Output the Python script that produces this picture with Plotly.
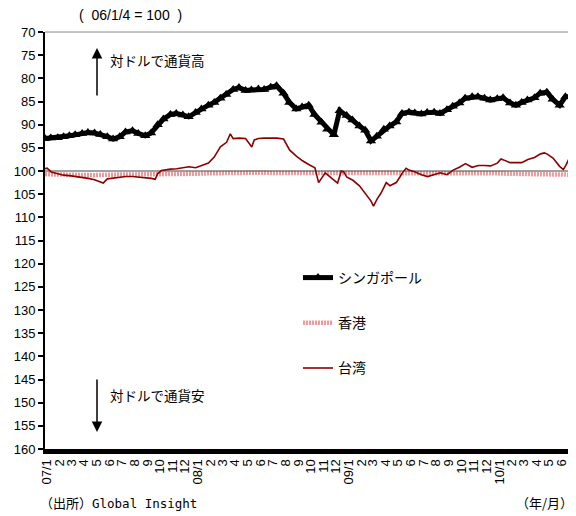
import pandas as pd
import plotly.graph_objects as go

# ---------------- data ----------------
BASE = 100

sg_dates = list(pd.date_range("2007-01-01", "2010-06-30", freq="SMS").strftime("%Y-%m-%d")) + ["2010-06-30"]
sg_values = [93.0, 92.9, 92.8, 92.6, 92.4, 92.2, 91.9, 91.7, 91.8, 92.1, 92.6, 93.1,
             92.6, 91.6, 91.3, 91.9, 92.4, 91.8, 90.0, 88.8, 87.8, 87.6, 87.9, 88.3,
             87.4, 86.6, 85.8, 85.2, 84.3, 83.5, 82.4, 82.0, 82.6, 82.5, 82.3, 82.4,
             81.9, 81.6, 83.2, 85.2, 86.6, 86.2, 85.8, 87.8, 89.5, 91.0, 92.2, 87.0,
             88.0, 89.0, 90.3, 91.2, 93.5, 92.5, 91.0, 90.3, 89.4, 87.6, 87.3, 87.5,
             87.7, 87.4, 87.3, 87.6, 86.8, 86.0, 85.3, 84.3, 84.0, 84.0, 84.3, 84.7,
             84.4, 84.2, 85.3, 85.8, 85.2, 84.7, 84.2, 83.2, 83.0, 84.5, 85.8, 84.0,
             84.0]

hk_dates = list(pd.date_range("2007-01-01", "2010-06-01", freq="MS").strftime("%Y-%m-%d")) + ["2010-06-30"]
hk_values = [100.7, 100.8, 100.8, 100.8, 100.9, 100.8, 100.8, 100.7, 100.7, 100.6, 100.6, 100.6,
             100.6, 100.5, 100.4, 100.4, 100.4, 100.4, 100.4, 100.4, 100.5, 100.4, 100.3, 100.4,
             100.5, 100.5, 100.5, 100.5, 100.5, 100.4, 100.4, 100.4, 100.5, 100.5, 100.4, 100.5,
             100.5, 100.6, 100.6, 100.6, 100.7, 100.8, 100.8]

tw_dates = ["2007-01-01", "2007-01-06", "2007-01-16", "2007-02-01", "2007-02-15", "2007-03-01",
            "2007-03-16", "2007-04-01", "2007-04-16", "2007-05-01", "2007-05-16", "2007-05-22",
            "2007-06-01", "2007-06-16", "2007-07-01", "2007-07-16", "2007-08-01", "2007-08-16",
            "2007-09-01", "2007-09-16", "2007-09-25", "2007-10-01", "2007-10-10", "2007-10-16",
            "2007-11-01", "2007-11-16", "2007-12-01", "2007-12-16", "2008-01-01", "2008-01-16",
            "2008-02-01", "2008-02-15", "2008-03-01", "2008-03-16", "2008-03-25", "2008-04-01",
            "2008-04-16", "2008-05-01", "2008-05-16", "2008-05-22", "2008-06-01", "2008-06-16",
            "2008-07-01", "2008-07-16", "2008-08-01", "2008-08-16", "2008-09-01", "2008-09-16",
            "2008-10-01", "2008-10-16", "2008-10-25", "2008-11-01", "2008-11-10", "2008-11-18",
            "2008-12-01", "2008-12-10", "2008-12-19", "2008-12-25", "2009-01-01", "2009-01-16",
            "2009-02-01", "2009-02-15", "2009-03-01", "2009-03-07", "2009-03-16", "2009-03-25",
            "2009-04-01", "2009-04-07", "2009-04-16", "2009-05-01", "2009-05-10", "2009-05-16",
            "2009-05-25", "2009-06-01", "2009-06-16", "2009-07-01", "2009-07-16", "2009-08-01",
            "2009-08-16", "2009-09-01", "2009-09-16", "2009-10-01", "2009-10-16", "2009-11-01",
            "2009-11-16", "2009-12-01", "2009-12-16", "2010-01-01", "2010-01-10", "2010-01-16",
            "2010-02-01", "2010-02-15", "2010-03-01", "2010-03-16", "2010-04-01", "2010-04-16",
            "2010-04-25", "2010-05-01", "2010-05-16", "2010-06-01", "2010-06-10", "2010-06-16",
            "2010-06-22", "2010-06-30"]
tw_values = [99.5, 99.4, 100.2, 100.6, 100.9, 101.0,
             101.2, 101.3, 101.6, 101.9, 102.3, 102.6,
             101.7, 101.5, 101.3, 101.2, 101.2, 101.3,
             101.4, 101.6, 101.8, 100.6, 99.9, 99.8,
             99.6, 99.5, 99.3, 99.1, 99.3, 98.8,
             98.3, 97.0, 94.8, 93.8, 92.0, 93.0,
             92.9, 93.0, 94.8, 93.3, 93.0, 92.9,
             92.9, 92.9, 93.1, 95.5, 96.8, 97.8,
             98.6, 99.3, 102.5, 101.5, 100.4, 101.0,
             102.0, 102.6, 100.0, 100.2, 101.3, 102.0,
             103.2, 104.8, 106.5, 107.6, 106.0, 104.8,
             103.5, 102.5, 103.2, 102.5, 101.3, 100.4,
             99.4, 99.8, 100.2, 100.8, 101.2, 100.8,
             100.4, 100.8, 99.8, 99.2, 98.4, 99.2,
             98.8, 98.8, 98.9, 98.3, 97.4, 97.6,
             98.2, 98.2, 98.2, 97.5, 97.1, 96.3,
             96.1, 96.3, 97.2, 99.0, 99.7, 98.8,
             97.7, 98.3]

tick_dates = list(pd.date_range("2007-01-01", periods=42, freq="MS").strftime("%Y-%m-06"))
tick_text = ["07/1"] + [str(m) for m in range(2, 13)] + \
            ["08/1"] + [str(m) for m in range(2, 13)] + \
            ["09/1"] + [str(m) for m in range(2, 13)] + \
            ["10/1"] + [str(m) for m in range(2, 7)]

X_RANGE = ["2007-01-01", "2010-07-01"]
Y_RANGE = [160, 70]

# ---------------- figure ----------------
FONT = "Liberation Sans, Arial, Noto Sans CJK JP, sans-serif"
JFONT = "Noto Sans CJK JP, sans-serif"
MONO = "DejaVu Sans Mono, Liberation Mono, monospace"

fig = go.Figure()

fig.add_trace(go.Scatter(
    x=hk_dates, y=hk_values, mode="lines", name="香港",
    line=dict(color="#f29a9a", width=4.5, dash="2px,1px"),
    legendgroup="hk", legendrank=2))

fig.add_trace(go.Scatter(
    x=X_RANGE, y=[BASE, BASE], mode="lines", showlegend=False,
    line=dict(color="#444444", width=1), hoverinfo="skip"))

fig.add_trace(go.Scatter(
    x=tw_dates, y=tw_values, mode="lines", name="台湾",
    line=dict(color="#8b0000", width=1.6),
    legendgroup="tw", legendrank=3))

fig.add_trace(go.Scatter(
    x=sg_dates, y=sg_values, mode="lines+markers", name="シンガポール",
    line=dict(color="black", width=5),
    marker=dict(symbol="triangle-up", size=9, color="black"),
    legendgroup="sg", legendrank=1))

# page offset: the browser body has an 8px margin, so the figure is drawn 8px smaller
OFF = 8
PLOT_L, PLOT_R, PLOT_T, PLOT_B = 45, 572, 32, 449   # page pixels of the plot area


def px(x):
    return (x - PLOT_L) / (PLOT_R - PLOT_L)


def py(y):
    return (PLOT_B - y) / (PLOT_B - PLOT_T)


annotations = [
    dict(x=px(130), y=py(15), text="(  06/1/4 = 100  )", showarrow=False, xanchor="center",
         font=dict(family=FONT, size=14, color="black")),
    dict(x=px(97), y=py(48), ax=0, ay=49, text="", showarrow=True,
         arrowhead=2, arrowsize=1.4, arrowwidth=1.5, arrowcolor="black"),
    dict(x=px(108), y=py(60), text="対ドルで通貨高", showarrow=False, xanchor="left",
         font=dict(family=JFONT, size=13.5, color="black")),
    dict(x=px(97), y=py(432), ax=0, ay=-54, text="", showarrow=True,
         arrowhead=2, arrowsize=1.4, arrowwidth=1.5, arrowcolor="black"),
    dict(x=px(108), y=py(395), text="対ドルで通貨安", showarrow=False, xanchor="left",
         font=dict(family=JFONT, size=13.5, color="black")),
    dict(x=px(38), y=py(502),
         text="（出所）<span style=\"font-family:DejaVu Sans Mono, monospace; font-size:12.5px\">Global Insight</span>",
         showarrow=False, xanchor="left",
         font=dict(family=JFONT, size=13, color="black")),
    dict(x=px(575), y=py(502), text="（年/月）", showarrow=False, xanchor="right",
         font=dict(family=JFONT, size=13, color="black")),
]
for a in annotations:
    a.setdefault("xref", "paper")
    a.setdefault("yref", "paper")
    if not a.get("showarrow"):
        a["yanchor"] = "middle"

W, H = 576 - OFF, 516 - OFF
fig.update_layout(
    width=W, height=H,
    margin=dict(l=PLOT_L - OFF, r=W - (PLOT_R - OFF), t=PLOT_T - OFF, b=H - (PLOT_B - OFF),
                autoexpand=False),
    paper_bgcolor="white", plot_bgcolor="white",
    font=dict(family=FONT, size=13, color="black"),
    showlegend=True,
    legend=dict(x=px(298), y=py(262), xanchor="left", yanchor="top",
                bgcolor="rgba(0,0,0,0)", traceorder="grouped", tracegroupgap=24,
                font=dict(family=JFONT, size=14, color="black")),
    annotations=annotations,
    shapes=[
        dict(type="line", xref="paper", yref="paper", x0=0, x1=1, y0=1, y1=1,
             line=dict(color="#888888", width=1)),
        dict(type="line", xref="paper", yref="paper", x0=1, x1=1, y0=0, y1=1,
             line=dict(color="#888888", width=1)),
    ],
)

fig.update_xaxes(
    type="date", range=X_RANGE, tickmode="array", tickvals=tick_dates, ticktext=tick_text,
    tickangle=-90, showgrid=False, zeroline=False, automargin=False,
    showline=True, linecolor="black", linewidth=5, ticks="",
    tickfont=dict(family=FONT, size=13, color="black"))

fig.update_yaxes(
    range=Y_RANGE, dtick=5, tick0=70, showgrid=False, zeroline=False, automargin=False,
    showline=True, linecolor="black", linewidth=2, ticks="outside", ticklen=5,
    tickcolor="black", tickwidth=1.5,
    tickfont=dict(family=FONT, size=13, color="black"))

fig.write_html("out.html")
